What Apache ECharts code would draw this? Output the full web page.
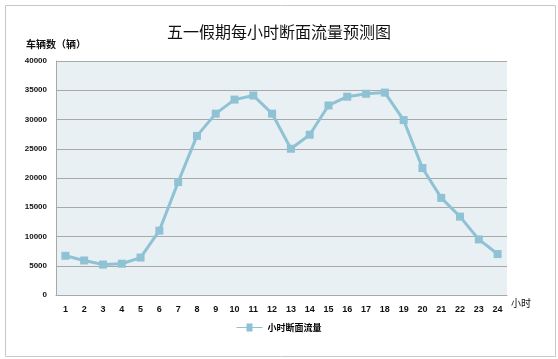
<!DOCTYPE html>
<html><head><meta charset="utf-8">
<script src="https://cdn.jsdelivr.net/npm/echarts@6/dist/echarts.min.js"></script>
<style>html,body{margin:0;padding:0;background:#fff}#c{width:558px;height:359px}</style>
</head><body><div id="c"></div>
<script>
const hours = ['1','2','3','4','5','6','7','8','9','10','11','12','13','14','15','16','17','18','19','20','21','22','23','24'];
const flow = [6700,5900,5200,5350,6400,11000,19300,27200,31000,33400,34100,31000,25000,27400,32400,33900,34400,34600,29900,21700,16600,13400,9500,7000];
const seriesName = '小时断面流量';
const titleText = '五一假期每小时断面流量预测图';
const yName = '车辆数（辆）';
const xName = '小时';

const chart = echarts.init(document.getElementById('c'), null, {renderer:'canvas'});
const font = '"Noto Sans CJK SC","DejaVu Sans",sans-serif';
const numFont = '"Liberation Sans",Arial,sans-serif';
chart.setOption({
  animation:false,
  backgroundColor:'#fff',
  graphic:[{type:'rect',left:3,top:3,shape:{width:550,height:351},style:{fill:'none',stroke:'#c8c8c8',lineWidth:1},silent:true}],
  title:{text:titleText,left:'center',top:19,textStyle:{fontFamily:font,fontSize:16,fontWeight:'normal',color:'#111'}},
  legend:{bottom:22,left:'center',itemWidth:26,itemHeight:8,
    data:[{name:seriesName,icon:'path://M0,3.5L10,3.5L10,0L16,0L16,3.5L26,3.5L26,4.5L16,4.5L16,8L10,8L10,4.5L0,4.5Z'}],
    textStyle:{fontFamily:font,fontSize:9,fontWeight:'bold',color:'#000'},itemGap:2},
  grid:{left:56,right:51,top:61,bottom:64,containLabel:false,show:true,backgroundColor:'#e9f0f4',borderWidth:0},
  xAxis:{type:'category',data:hours,boundaryGap:true,name:xName,nameLocation:'end',nameGap:4,
    nameTextStyle:{fontFamily:font,fontSize:10,color:'#111',verticalAlign:'top',padding:[3,0,0,0]},
    axisLine:{lineStyle:{color:'#a8a8a8',width:1}},axisTick:{show:false},
    axisLabel:{fontFamily:numFont,fontSize:9,fontWeight:'bold',color:'#111',margin:10}},
  yAxis:{type:'value',min:0,max:40000,interval:5000,name:yName,nameLocation:'end',nameGap:12,
    nameTextStyle:{fontFamily:font,fontSize:10,fontWeight:'bold',color:'#111',align:'center'},
    axisLine:{show:true,lineStyle:{color:'#a8a8a8',width:1}},axisTick:{show:false},
    splitLine:{lineStyle:{color:'#a9a9a9',width:1}},
    axisLabel:{fontFamily:numFont,fontSize:8,fontWeight:'bold',color:'#111',margin:9,formatter:function(v){return String(v);}}},
  series:[{name:seriesName,type:'line',data:flow,symbol:'rect',symbolSize:8,
    lineStyle:{color:'#8ec2d4',width:3},itemStyle:{color:'#8ec2d4'}}]
});
</script></body></html>
